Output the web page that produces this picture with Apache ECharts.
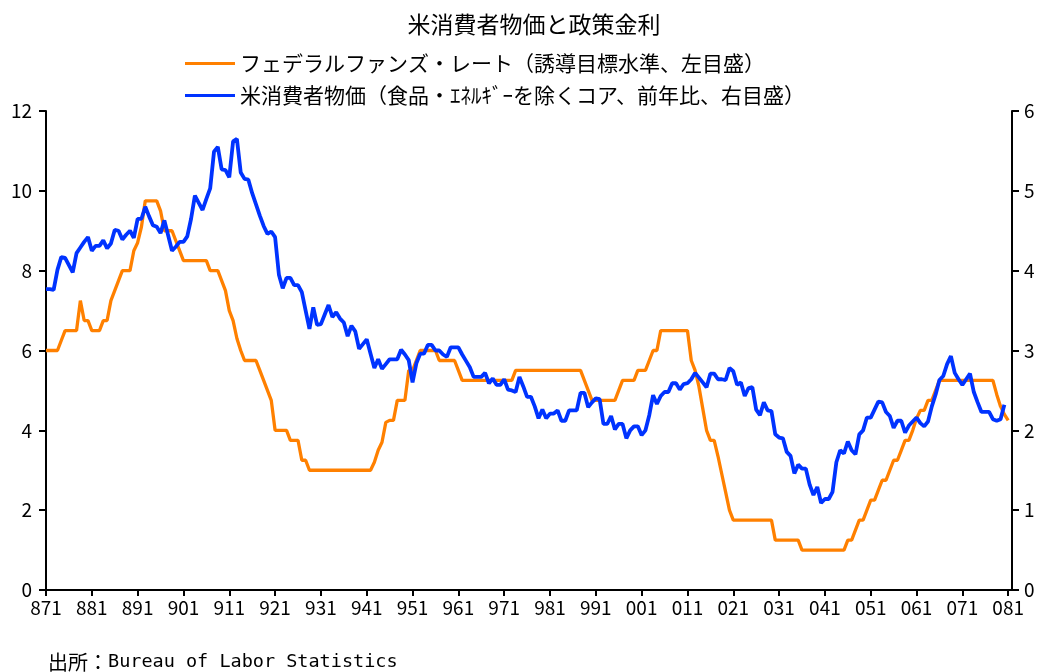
<!DOCTYPE html>
<html><head><meta charset="utf-8">
<script src="https://cdn.jsdelivr.net/npm/echarts@6/dist/echarts.min.js"></script>
<style>html,body{margin:0;padding:0;background:#fff}#c{width:1040px;height:672px}</style>
</head><body><div id="c"></div>
<script>
// Year tick labels (YY + month "1" = January)
const tickLabels = ['871','881','891','901','911','921','931','941','951','961','971','981','991','001','011','021','031','041','051','061','071','081'];

// Federal funds target rate (%), monthly from 1987-01 to 2008-01 (left axis)
const ffRate = [
  6.0, 6.0, 6.0, 6.0, 6.25, 6.5, 6.5, 6.5, 6.5, 7.25, 6.75, 6.75,
  6.5, 6.5, 6.5, 6.75, 6.75, 7.25, 7.5, 7.75, 8.0, 8.0, 8.0, 8.5,
  8.7, 9.1, 9.75, 9.75, 9.75, 9.75, 9.5, 9.0, 9.0, 9.0, 8.75, 8.5,
  8.25, 8.25, 8.25, 8.25, 8.25, 8.25, 8.25, 8.0, 8.0, 8.0, 7.75, 7.5,
  7.0, 6.75, 6.3, 6.0, 5.75, 5.75, 5.75, 5.75, 5.5, 5.25, 5.0, 4.75,
  4.0, 4.0, 4.0, 4.0, 3.75, 3.75, 3.75, 3.25, 3.25, 3.0, 3.0, 3.0,
  3.0, 3.0, 3.0, 3.0, 3.0, 3.0, 3.0, 3.0, 3.0, 3.0, 3.0, 3.0,
  3.0, 3.0, 3.2, 3.5, 3.7, 4.2, 4.25, 4.25, 4.75, 4.75, 4.75, 5.5,
  5.5, 5.75, 6.0, 6.0, 6.0, 6.0, 6.0, 5.75, 5.75, 5.75, 5.75, 5.75,
  5.5, 5.25, 5.25, 5.25, 5.25, 5.25, 5.25, 5.25, 5.25, 5.25, 5.25, 5.25,
  5.25, 5.25, 5.25, 5.5, 5.5, 5.5, 5.5, 5.5, 5.5, 5.5, 5.5, 5.5,
  5.5, 5.5, 5.5, 5.5, 5.5, 5.5, 5.5, 5.5, 5.5, 5.25, 5.0, 4.75,
  4.75, 4.75, 4.75, 4.75, 4.75, 4.75, 5.0, 5.25, 5.25, 5.25, 5.25, 5.5,
  5.5, 5.5, 5.75, 6.0, 6.0, 6.5, 6.5, 6.5, 6.5, 6.5, 6.5, 6.5,
  6.5, 5.75, 5.5, 5.1, 4.55, 4.0, 3.75, 3.75, 3.35, 2.9, 2.45, 2.0,
  1.75, 1.75, 1.75, 1.75, 1.75, 1.75, 1.75, 1.75, 1.75, 1.75, 1.75, 1.25,
  1.25, 1.25, 1.25, 1.25, 1.25, 1.25, 1.0, 1.0, 1.0, 1.0, 1.0, 1.0,
  1.0, 1.0, 1.0, 1.0, 1.0, 1.0, 1.25, 1.25, 1.5, 1.75, 1.75, 2.0,
  2.25, 2.25, 2.5, 2.75, 2.75, 3.0, 3.25, 3.25, 3.5, 3.75, 3.75, 4.0,
  4.3, 4.5, 4.5, 4.75, 4.75, 5.0, 5.25, 5.25, 5.25, 5.25, 5.25, 5.25,
  5.25, 5.25, 5.25, 5.25, 5.25, 5.25, 5.25, 5.25, 5.25, 4.9, 4.6, 4.4,
  4.25
];

// US core CPI (ex food & energy), % y/y, monthly from 1987-01 to 2007-12 (right axis)
const coreCPI = [
  3.77, 3.77, 3.76, 4.01, 4.17, 4.16, 4.07, 3.98, 4.22, 4.29, 4.36, 4.42,
  4.25, 4.31, 4.31, 4.38, 4.28, 4.34, 4.51, 4.50, 4.39, 4.45, 4.50, 4.41,
  4.65, 4.65, 4.80, 4.68, 4.57, 4.55, 4.47, 4.63, 4.44, 4.25, 4.30, 4.36,
  4.36, 4.43, 4.65, 4.94, 4.85, 4.76, 4.90, 5.03, 5.49, 5.55, 5.27, 5.26,
  5.17, 5.62, 5.65, 5.23, 5.15, 5.14, 4.97, 4.83, 4.69, 4.56, 4.46, 4.49,
  4.42, 3.95, 3.78, 3.91, 3.91, 3.82, 3.82, 3.73, 3.50, 3.27, 3.54, 3.32,
  3.33, 3.45, 3.57, 3.42, 3.48, 3.40, 3.35, 3.18, 3.31, 3.24, 3.02, 3.08,
  3.14, 2.96, 2.78, 2.89, 2.77, 2.83, 2.89, 2.89, 2.89, 3.01, 2.95, 2.88,
  2.60, 2.84, 2.96, 2.96, 3.07, 3.07, 3.00, 3.00, 2.95, 2.92, 3.04, 3.04,
  3.04, 2.95, 2.87, 2.79, 2.67, 2.67, 2.67, 2.72, 2.59, 2.65, 2.57, 2.57,
  2.64, 2.51, 2.50, 2.48, 2.67, 2.55, 2.42, 2.42, 2.30, 2.15, 2.26, 2.15,
  2.21, 2.21, 2.25, 2.12, 2.12, 2.25, 2.25, 2.25, 2.47, 2.47, 2.29, 2.35,
  2.40, 2.39, 2.08, 2.08, 2.18, 2.01, 2.08, 2.08, 1.90, 2.00, 2.05, 2.05,
  1.94, 2.00, 2.19, 2.44, 2.33, 2.43, 2.48, 2.48, 2.59, 2.59, 2.51, 2.58,
  2.59, 2.64, 2.72, 2.66, 2.60, 2.54, 2.71, 2.71, 2.64, 2.64, 2.63, 2.78,
  2.74, 2.57, 2.60, 2.43, 2.53, 2.54, 2.26, 2.19, 2.35, 2.25, 2.24, 1.95,
  1.91, 1.90, 1.73, 1.68, 1.46, 1.57, 1.52, 1.52, 1.32, 1.19, 1.29, 1.09,
  1.14, 1.14, 1.23, 1.60, 1.75, 1.71, 1.86, 1.75, 1.70, 1.95, 2.00, 2.16,
  2.16, 2.26, 2.36, 2.35, 2.23, 2.18, 2.03, 2.12, 2.12, 1.97, 2.06, 2.11,
  2.16, 2.09, 2.05, 2.11, 2.30, 2.45, 2.63, 2.68, 2.83, 2.93, 2.72, 2.64,
  2.57, 2.64, 2.71, 2.48, 2.35, 2.23, 2.23, 2.23, 2.14, 2.12, 2.14, 2.32
];

const seriesNames = ['フェデラルファンズ・レート（誘導目標水準、左目盛）', '米消費者物価（食品・ｴﾈﾙｷﾞｰを除くコア、前年比、右目盛）'];
const chartTitle = '米消費者物価と政策金利';

// Month categories: YY + month number; one extra slot after the last label
const months = [];
tickLabels.forEach(t => { for (let m = 1; m <= 12; m++) months.push(t.slice(0, 2) + m); });
const cats = months.slice(0, 254);

const FONT = '"Noto Sans CJK JP", "Noto Sans", sans-serif';
const chart = echarts.init(document.getElementById('c'), null, {renderer: 'canvas'});
const axisLineStyle = {color: '#000', width: 2};
chart.setOption({
  animation: false,
  backgroundColor: '#fff',
  textStyle: {fontFamily: FONT, color: '#000'},
  title: [{
    text: chartTitle,
    left: 529, top: 8, textAlign: 'center',
    textStyle: {fontFamily: FONT, fontSize: 23, fontWeight: 'normal', color: '#000'}
  }],
  legend: {
    orient: 'vertical', left: 185, top: 53, padding: 0,
    itemWidth: 50, itemHeight: 3, itemGap: 11,
    icon: 'rect',
    textStyle: {fontFamily: FONT, fontSize: 21, color: '#000'},
    data: seriesNames
  },
  grid: {left: 46, right: 28, top: 111, bottom: 82, containLabel: false},
  xAxis: {
    type: 'category', data: cats, boundaryGap: false,
    axisLine: {lineStyle: axisLineStyle},
    axisTick: {show: true, length: 6, lineStyle: axisLineStyle, interval: i => i % 12 === 0},
    axisLabel: {interval: i => i % 12 === 0, fontFamily: FONT, fontSize: 19, color: '#000', margin: 8},
    splitLine: {show: false}
  },
  yAxis: [{
    type: 'value', min: 0, max: 12, interval: 2, position: 'left',
    axisLine: {show: true, lineStyle: axisLineStyle},
    axisTick: {show: true, length: 7, lineStyle: axisLineStyle},
    axisLabel: {fontFamily: FONT, fontSize: 19, color: '#000', margin: 14},
    splitLine: {show: false}
  }, {
    type: 'value', min: 0, max: 6, interval: 1, position: 'right',
    axisLine: {show: true, lineStyle: axisLineStyle},
    axisTick: {show: true, length: 7, lineStyle: axisLineStyle},
    axisLabel: {fontFamily: FONT, fontSize: 19, color: '#000', margin: 12},
    splitLine: {show: false}
  }],
  graphic: [{
    type: 'text', left: 48, top: 652,
    style: {
      text: '{a|出所：}{b|Bureau of Labor Statistics}',
      rich: {
        a: {fontFamily: FONT, fontSize: 20, fill: '#000'},
        b: {fontFamily: '"DejaVu Sans Mono", monospace', fontSize: 18.5, fill: '#000'}
      }
    }
  }],
  series: [{
    name: seriesNames[0], type: 'line', yAxisIndex: 0, data: ffRate,
    symbol: 'none', showSymbol: false,
    lineStyle: {color: '#FF8000', width: 3.3}, itemStyle: {color: '#FF8000'}
  }, {
    name: seriesNames[1], type: 'line', yAxisIndex: 1, data: coreCPI,
    symbol: 'none', showSymbol: false,
    lineStyle: {color: '#0033FF', width: 3.8}, itemStyle: {color: '#0033FF'}
  }]
});
</script>
</body></html>
